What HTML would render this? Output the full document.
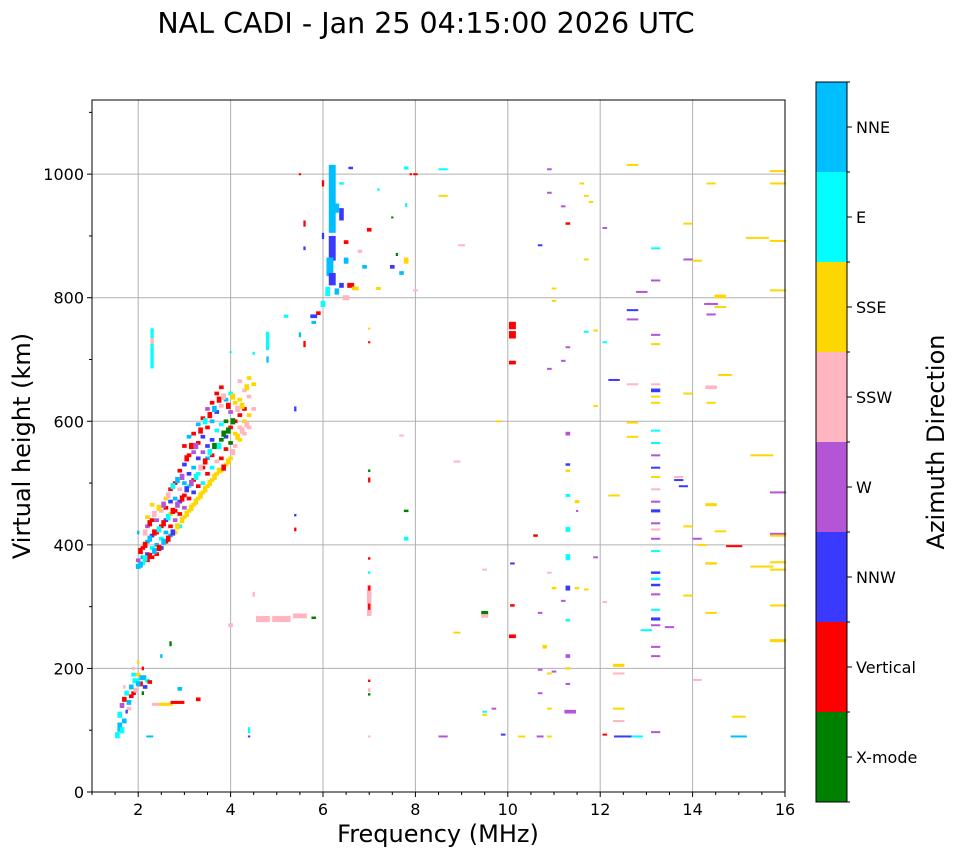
<!DOCTYPE html>
<html><head><meta charset="utf-8"><style>
body{margin:0;background:#fff;font-family:"DejaVu Sans","Liberation Sans",sans-serif}
svg text{font-family:"DejaVu Sans","Liberation Sans",sans-serif}
</style></head><body>
<svg id="chart" width="958" height="857" viewBox="0 0 958 857" xmlns="http://www.w3.org/2000/svg">
<text x="426" y="33" font-size="28.5" text-anchor="middle">NAL CADI - Jan 25 04:15:00 2026 UTC</text>
<g id="grid"></g>
<g id="marks"></g>
<rect x="92" y="100" width="693" height="692" fill="none" stroke="#000" stroke-width="1"/>
<g id="axes"></g>
<text x="438" y="842" font-size="24" text-anchor="middle">Frequency (MHz)</text>
<text transform="translate(30,446) rotate(-90)" font-size="24" text-anchor="middle">Virtual height (km)</text>
<g id="cbar"></g>
<text transform="translate(944,442) rotate(-90)" font-size="24" text-anchor="middle">Azimuth Direction</text>
</svg>
<script>
const xTicks=[2,4,6,8,10,12,14,16];
const yTicks=[0,200,400,600,800,1000];
const dirNames=["X-mode","Vertical","NNW","W","SSW","SSE","E","NNE"];
const dirColors=["#008000","#ff0000","#3a3aff","#b455d6","#ffb6c1","#ffd700","#00ffff","#00bfff"];
// [freq MHz, height km, direction index, freq width, height span]
const echoes=[
[1.55,92,6,.1,10],[1.6,105,7,.1,15],[1.6,125,6,.1,10],[1.65,140,3,.1,8],[1.7,150,1,.1,8],[1.7,115,7,.1,8],[1.75,160,6,.1,8],[1.8,135,4,.1,6],[1.85,170,7,.1,8],[1.9,160,1,.1,6],[1.95,180,6,.15,8],[2.0,190,5,.1,6],[2.05,175,1,.1,8],[2.1,185,7,.15,8],[2.15,170,2,.1,6],[2.2,180,6,.1,6],[2.25,178,1,.1,6],[1.9,200,4,.05,6],[2.0,210,5,.05,6],[1.75,130,2,.05,6],[2.1,160,0,.05,6],
[1.65,100,6,.1,10],[1.8,145,7,.1,8],[1.85,155,1,.1,6],[1.95,165,4,.1,8],[2.0,175,7,.1,8],[2.1,200,1,.05,6],[1.7,170,4,.05,6],[1.9,190,6,.1,6],
[2.4,142,4,.2,5],[2.6,142,5,.3,5],[2.85,145,1,.3,5],[3.3,150,1,.1,6],[2.9,167,7,.1,6],[2.7,240,0,.05,8],[2.5,220,7,.05,6],[2.25,90,7,.15,3],
[2.0,365,7,.1,8],[2.0,375,3,.1,6],[2.0,420,7,.05,6],[2.1,370,6,.1,6],[2.1,380,7,.1,6],[2.1,395,1,.1,6],
[2.2,375,1,.1,6],[2.2,385,2,.1,6],[2.2,405,7,.1,6],[2.2,430,3,.1,6],[2.2,445,5,.1,6],
[2.3,380,1,.1,6],[2.3,395,6,.1,6],[2.3,415,2,.1,6],[2.3,440,1,.1,6],[2.3,465,5,.1,6],
[2.4,385,1,.1,6],[2.4,400,7,.1,6],[2.4,420,1,.1,6],[2.4,440,3,.1,6],
[2.5,395,2,.1,6],[2.5,410,6,.1,6],[2.5,430,1,.1,6],[2.5,455,4,.1,6],
[2.6,405,1,.1,6],[2.6,420,7,.1,6],[2.6,440,2,.1,6],[2.6,460,1,.1,6],[2.6,475,5,.1,6],
[2.7,415,7,.1,6],[2.7,430,1,.1,6],[2.7,450,5,.1,6],[2.7,470,2,.1,6],[2.7,490,1,.1,6],
[2.8,420,5,.1,6],[2.8,440,3,.1,6],[2.8,455,1,.1,6],[2.8,475,7,.1,6],[2.8,500,1,.1,6],
[2.9,430,6,.1,6],[2.9,450,1,.1,6],[2.9,470,2,.1,6],[2.9,490,4,.1,6],[2.9,520,1,.1,6],
[3.0,445,5,.1,6],[3.0,460,3,.1,6],[3.0,480,1,.1,6],[3.0,500,7,.1,6],[3.0,530,2,.1,6],[3.0,560,1,.1,6],
[3.1,455,5,.1,6],[3.1,475,1,.1,6],[3.1,495,6,.1,6],[3.1,515,2,.1,6],[3.1,545,1,.1,6],[3.1,575,7,.1,6],
[3.2,465,5,.1,6],[3.2,485,2,.1,6],[3.2,505,1,.1,6],[3.2,525,7,.1,6],[3.2,550,3,.1,6],[3.2,580,1,.1,6],
[3.3,475,5,.1,6],[3.3,495,1,.1,6],[3.3,515,6,.1,6],[3.3,540,2,.1,6],[3.3,565,1,.1,6],[3.3,595,7,.1,6],
[3.4,485,5,.1,6],[3.4,500,6,.1,6],[3.4,525,1,.1,6],[3.4,550,3,.1,6],[3.4,575,2,.1,6],[3.4,605,1,.1,6],
[3.5,495,5,.1,6],[3.5,515,1,.1,6],[3.5,540,7,.1,6],[3.5,560,2,.1,6],[3.5,590,1,.1,6],[3.5,620,3,.1,6],
[3.6,505,5,.1,6],[3.6,525,6,.1,6],[3.6,545,1,.1,6],[3.6,570,2,.1,6],[3.6,600,7,.1,6],[3.6,630,1,.1,6],
[3.7,515,5,.1,6],[3.7,535,4,.1,6],[3.7,560,1,.1,6],[3.7,585,6,.1,6],[3.7,615,2,.1,6],[3.7,645,1,.1,6],
[3.8,520,5,.1,6],[3.8,540,1,.1,6],[3.8,570,0,.1,6],[3.8,595,6,.1,6],[3.8,625,4,.1,6],[3.8,655,1,.1,6],
[3.9,530,5,.1,6],[3.9,555,1,.1,6],[3.9,575,2,.1,6],[3.9,600,0,.1,6],[3.9,635,7,.1,6],
[4.0,540,5,.1,6],[4.0,565,0,.1,6],[4.0,590,1,.1,6],[4.0,615,3,.1,6],[4.0,645,6,.1,6],
[4.1,560,4,.1,6],[4.1,580,5,.1,6],[4.1,600,1,.1,6],[4.1,630,5,.1,6],
[4.2,570,5,.1,6],[4.2,590,4,.1,6],[4.2,610,1,.1,6],[4.2,635,5,.1,6],[4.2,665,4,.1,6],
[4.3,580,4,.1,6],[4.3,600,5,.1,6],[4.3,620,1,.1,6],[4.3,650,4,.1,6],
[4.4,590,4,.1,6],[4.4,610,5,.1,6],[4.4,640,4,.1,6],[4.4,670,5,.1,6],[4.5,660,5,.1,6],[4.5,620,4,.1,6],
[2.05,368,7,.1,10],[2.05,390,1,.1,10],[2.15,378,6,.1,10],[2.15,400,1,.1,10],[2.15,420,4,.1,10],[2.25,382,1,.1,10],[2.25,410,7,.1,10],[2.25,435,1,.1,10],[2.35,390,7,.1,10],[2.35,420,1,.1,10],[2.35,450,4,.1,10],[2.45,395,1,.1,10],[2.45,425,6,.1,10],[2.45,460,5,.1,10],[2.55,405,7,.1,10],[2.55,435,1,.1,10],[2.55,465,3,.1,10],[2.65,410,1,.1,10],[2.65,445,6,.1,10],[2.65,480,4,.1,10],[2.75,420,2,.1,10],[2.75,455,1,.1,10],[2.75,495,6,.1,10],[2.85,430,5,.1,10],[2.85,465,3,.1,10],[2.85,505,7,.1,10],[2.95,440,5,.1,10],[2.95,475,1,.1,10],[2.95,510,3,.1,10],[3.05,450,5,.1,10],[3.05,490,2,.1,10],[3.05,540,1,.1,10],[3.15,460,5,.1,10],[3.15,500,3,.1,10],[3.15,560,1,.1,10],[3.25,470,5,.1,10],[3.25,510,6,.1,10],[3.25,560,3,.1,10],[3.35,480,5,.1,10],[3.35,525,4,.1,10],[3.35,585,1,.1,10],[3.45,490,5,.1,10],[3.45,535,1,.1,10],[3.45,600,6,.1,10],[3.55,500,5,.1,10],[3.55,550,6,.1,10],[3.55,610,1,.1,10],[3.65,510,5,.1,10],[3.65,560,0,.1,10],[3.65,620,7,.1,10],[3.75,520,5,.1,10],[3.75,560,6,.1,10],[3.75,635,1,.1,10],[3.85,525,1,.1,10],[3.85,580,0,.1,10],[3.85,640,4,.1,10],[3.95,535,5,.1,10],[3.95,585,0,.1,10],[3.95,625,1,.1,10],[4.05,550,4,.1,10],[4.05,600,0,.1,10],[4.05,640,5,.1,10],[4.15,575,5,.1,10],[4.15,620,4,.1,10],[4.25,585,4,.1,10],[4.25,625,5,.1,10],[4.35,595,4,.1,10],[4.35,655,5,.1,10],
[2.3,718,6,.07,65],[2.3,730,4,.07,10],[4.8,730,6,.07,30],[4.8,700,7,.05,10],[4.5,710,6,.05,5],[4.0,712,6,.05,3],
[6.2,960,7,.15,110],[6.2,880,2,.15,40],[6.15,850,7,.15,30],[6.2,830,2,.15,20],[6.1,810,6,.1,15],[6.3,810,7,.1,10],[6.0,790,6,.1,10],[5.9,775,1,.1,6],[5.8,770,2,.15,6],[6.4,820,2,.1,8],[6.5,800,4,.15,8],[6.6,820,1,.15,8],[6.7,815,5,.15,6],[6.5,860,7,.1,10],[6.5,890,1,.1,6],[6.4,935,2,.1,20],[6.3,945,7,.1,15],[6.0,985,1,.05,10],[5.6,920,1,.05,10],[6.0,900,2,.05,10],[5.6,880,2,.05,6],[6.9,850,7,.1,6],[7.0,910,1,.1,6],[7.2,815,5,.1,5],[7.5,850,2,.1,6],[7.6,870,0,.05,5],[7.8,860,5,.1,10],[7.8,1010,6,.1,5],[7.8,950,6,.05,6],[7.7,840,7,.1,6],[6.8,875,4,.1,5],[6.6,1010,2,.1,4],[6.4,985,6,.1,4],[7.2,975,6,.05,4],[7.5,930,0,.05,3],[7.9,1000,1,.05,3],[5.5,1000,1,.05,3],[5.2,770,6,.1,5],[5.5,740,7,.05,8],[5.4,620,2,.05,8],[5.6,725,1,.05,10],[5.8,760,7,.1,5],
[4.7,280,4,.3,10],[5.1,280,4,.4,10],[5.5,285,4,.3,8],[5.8,282,0,.1,4],[4.0,270,4,.1,6],[4.5,320,4,.05,8],[7.0,310,4,.1,50],[7.0,300,1,.05,10],[7.0,330,1,.05,8],[7.0,520,0,.05,4],[7.0,505,1,.05,8],[7.0,378,1,.05,4],[7.0,355,6,.05,4],[7.0,165,4,.05,6],[7.0,158,0,.05,4],[7.0,180,1,.05,4],[7.0,90,4,.05,3],[4.4,90,2,.05,3],[4.4,100,6,.05,10],[5.4,425,1,.05,6],[5.4,448,2,.05,4],[7.8,410,6,.1,6],[7.8,455,0,.1,4],[7.7,577,4,.1,3],[7.0,728,1,.05,3],[7.0,750,5,.05,3],
[10.1,755,1,.15,12],[10.1,740,1,.15,12],[10.1,695,1,.15,6],[10.1,252,1,.15,6],[10.1,302,1,.1,4],[10.1,370,2,.1,3],[9.5,290,0,.15,6],[9.5,285,4,.15,6],[10.6,415,1,.1,4],[11.3,580,3,.1,6],[11.3,530,2,.1,4],[11.3,520,5,.1,4],[11.3,480,6,.1,5],[11.3,425,6,.1,8],[11.3,380,6,.1,10],[11.3,330,2,.1,8],[11.3,278,6,.1,4],[11.3,220,3,.1,6],[11.3,200,5,.1,4],[11.35,130,3,.25,6],[11.3,175,3,.1,3],[11.5,470,5,.1,5],[11.5,330,5,.1,4],[11.5,455,3,.05,3],
[12.7,780,2,.25,3],[12.7,765,3,.25,3],[12.3,667,2,.25,3],[12.3,480,5,.25,3],[12.4,205,5,.25,5],[12.4,192,4,.25,3],[12.4,135,5,.25,3],[12.4,115,4,.25,3],[12.5,90,2,.4,3],[12.8,90,6,.25,3],[12.1,93,1,.1,3],
[13.2,880,6,.2,3],[13.2,828,3,.2,3],[13.2,740,3,.2,3],[13.2,725,5,.2,3],[13.2,660,4,.2,3],[13.2,650,2,.2,6],[13.2,640,5,.2,3],[13.2,630,5,.2,3],[13.2,585,6,.2,3],[13.2,565,6,.2,3],[13.2,545,3,.2,3],[13.2,525,2,.2,3],[13.2,510,5,.2,3],[13.2,490,4,.2,3],[13.2,470,3,.2,3],[13.2,455,2,.2,5],[13.2,435,3,.2,3],[13.2,425,4,.2,3],[13.2,410,3,.2,3],[13.2,390,6,.2,3],[13.2,355,2,.2,4],[13.2,345,6,.2,4],[13.2,335,2,.2,4],[13.2,320,3,.2,3],[13.2,295,6,.2,3],[13.2,280,2,.2,5],[13.2,270,3,.2,3],[13.2,235,3,.2,3],[13.2,220,3,.2,3],[13.2,97,3,.2,3],[13.0,262,6,.25,3],[12.9,810,3,.25,2],[12.7,1015,5,.25,3],[12.7,598,5,.25,3],[12.7,575,5,.25,3],[12.7,660,4,.25,3],
[13.7,510,4,.2,3],[13.7,505,2,.2,3],[13.8,495,2,.2,3],[13.9,645,5,.2,3],[13.9,920,5,.2,3],[13.9,862,3,.2,3],[14.1,860,5,.2,3],[14.4,985,5,.2,3],[14.4,790,3,.3,3],[14.4,773,3,.2,3],[14.6,802,5,.25,6],[14.6,785,5,.25,3],[14.4,655,4,.25,6],[14.4,630,5,.2,3],[14.4,465,5,.25,5],[14.6,422,5,.25,3],[14.4,370,5,.25,4],[14.4,290,5,.25,3],[14.1,410,3,.2,3],[14.2,400,5,.2,3],[14.9,398,1,.35,3],[15.5,365,5,.5,3],[15.85,372,5,.35,3],[15.85,360,5,.35,3],[15.85,418,3,.35,3],[15.85,415,5,.35,3],[15.85,485,3,.35,3],[15.85,302,5,.35,3],[15.85,245,5,.35,5],[15.5,545,5,.5,3],[15.85,812,5,.35,3],[15.85,892,5,.35,3],[15.4,897,5,.5,3],[15.85,985,5,.35,3],[15.85,1005,5,.35,3],[14.7,675,5,.3,3],[15.0,122,5,.3,3],[15.0,90,7,.35,3],[13.9,318,5,.2,3],[13.9,430,5,.2,3],[13.5,267,3,.2,3],[14.1,182,4,.2,2],
[12.1,913,3,.1,3],[12.1,728,6,.1,3],[11.9,747,5,.1,3],[11.7,745,6,.1,3],[11.9,625,5,.1,3],[11.9,380,3,.1,3],[11.7,328,5,.1,3],[12.1,308,4,.1,2],[11.3,720,3,.1,3],[11.3,920,1,.1,4],[11.2,948,3,.1,3],[10.9,970,3,.1,3],[10.9,1008,3,.1,3],[10.7,885,2,.1,3],[11.0,815,5,.1,3],[11.0,795,5,.1,3],[10.9,685,3,.1,3],[11.2,698,3,.1,3],[11.6,985,5,.1,3],[11.7,965,5,.1,3],[11.8,955,5,.1,3],[11.7,862,5,.1,3],[8.6,1008,6,.2,3],[8.6,965,5,.2,3],[9.0,885,4,.15,3],[8.9,535,4,.15,3],[9.8,600,5,.1,3],[9.5,360,4,.1,3],[9.5,130,6,.1,3],[9.5,125,5,.1,3],[9.7,135,3,.1,3],[9.9,93,2,.1,3],[8.9,258,5,.15,3],[8.6,90,3,.2,3],[10.3,90,5,.15,3],[10.7,90,3,.15,3],[10.9,90,5,.1,3],[10.7,160,3,.1,3],[10.7,198,3,.1,3],[10.8,235,5,.1,6],[10.9,192,5,.1,3],[10.9,135,5,.1,3],[11.0,195,3,.1,3],[10.9,355,4,.1,3],[10.7,290,3,.1,3],[11.0,330,5,.1,4],[11.2,310,3,.1,2],[8.0,812,4,.1,3],[8.0,1000,1,.1,3]
];
const NS="http://www.w3.org/2000/svg";
const X0=92,X1=785,Y0=792,Y1=100,FMIN=1,FMAX=16,HMIN=0,HMAX=1120;
const xs=f=>X0+(f-FMIN)/(FMAX-FMIN)*(X1-X0);
const ys=h=>Y0-(h-HMIN)/(HMAX-HMIN)*(Y0-Y1);
function mk(tag,attrs,parent){const e=document.createElementNS(NS,tag);for(const k in attrs)e.setAttribute(k,attrs[k]);parent.appendChild(e);return e;}
const grid=document.getElementById('grid'),axes=document.getElementById('axes'),marks=document.getElementById('marks'),cbar=document.getElementById('cbar');
xTicks.forEach(t=>{const x=xs(t);
 const g=mk('line',{x1:x,x2:x,y1:Y1,y2:Y0,stroke:'#b0b0b0','stroke-width':1},grid);
 
 
 mk('line',{x1:x,x2:x,y1:Y0,y2:Y0+5,stroke:'#000'},axes);
 const tx=mk('text',{x:x,y:Y0+23,'font-size':16,'text-anchor':'middle'},axes);tx.textContent=t;
 
 
});
for(let f=1;f<=16;f+=0.5){if(xTicks.indexOf(f)<0)mk('line',{x1:xs(f),x2:xs(f),y1:Y0,y2:Y0+3,stroke:'#000'},axes);}
yTicks.forEach(t=>{const y=ys(t);
 const g=mk('line',{x1:X0,x2:X1,y1:y,y2:y,stroke:'#b0b0b0','stroke-width':1},grid);
 
 
 mk('line',{x1:X0-5,x2:X0,y1:y,y2:y,stroke:'#000'},axes);
 const tx=mk('text',{x:X0-8,y:y+6,'font-size':16,'text-anchor':'end'},axes);tx.textContent=t;
 
 
});
for(let h=100;h<=1100;h+=200){mk('line',{x1:X0-3,x2:X0,y1:ys(h),y2:ys(h),stroke:'#000'},axes);}
echoes.forEach(e=>{const [f,h,d,wf,hh]=e;
 const x=xs(f-wf/2),w=xs(f+wf/2)-x,y=ys(h+hh/2),ht=Math.max(2,ys(h-hh/2)-y);
 const r=mk('rect',{x:x,y:y,width:Math.max(2,w),height:ht,fill:dirColors[d]},marks);
 
 
});
const CB0=802,CB1=82,cx=816,cw=31,seg=(CB0-CB1)/dirNames.length;
dirNames.forEach((n,i)=>{const y=CB0-(i+1)*seg;
 const r=mk('rect',{x:cx,y:y,width:cw,height:seg,fill:dirColors[i]},cbar);
 
 
 mk('line',{x1:cx+cw,x2:cx+cw+5,y1:y+seg/2,y2:y+seg/2,stroke:'#000'},cbar);
 const t=mk('text',{x:cx+cw+9,y:y+seg/2+6,'font-size':16},cbar);t.textContent=n;
 
 
});
for(let i=0;i<=dirNames.length;i++){const y=CB0-i*seg;mk('line',{x1:cx+cw,x2:cx+cw+3,y1:y,y2:y,stroke:'#000'},cbar);}
mk('rect',{x:cx,y:CB1,width:cw,height:CB0-CB1,fill:'none',stroke:'#000'},cbar);
</script>
</body></html>
